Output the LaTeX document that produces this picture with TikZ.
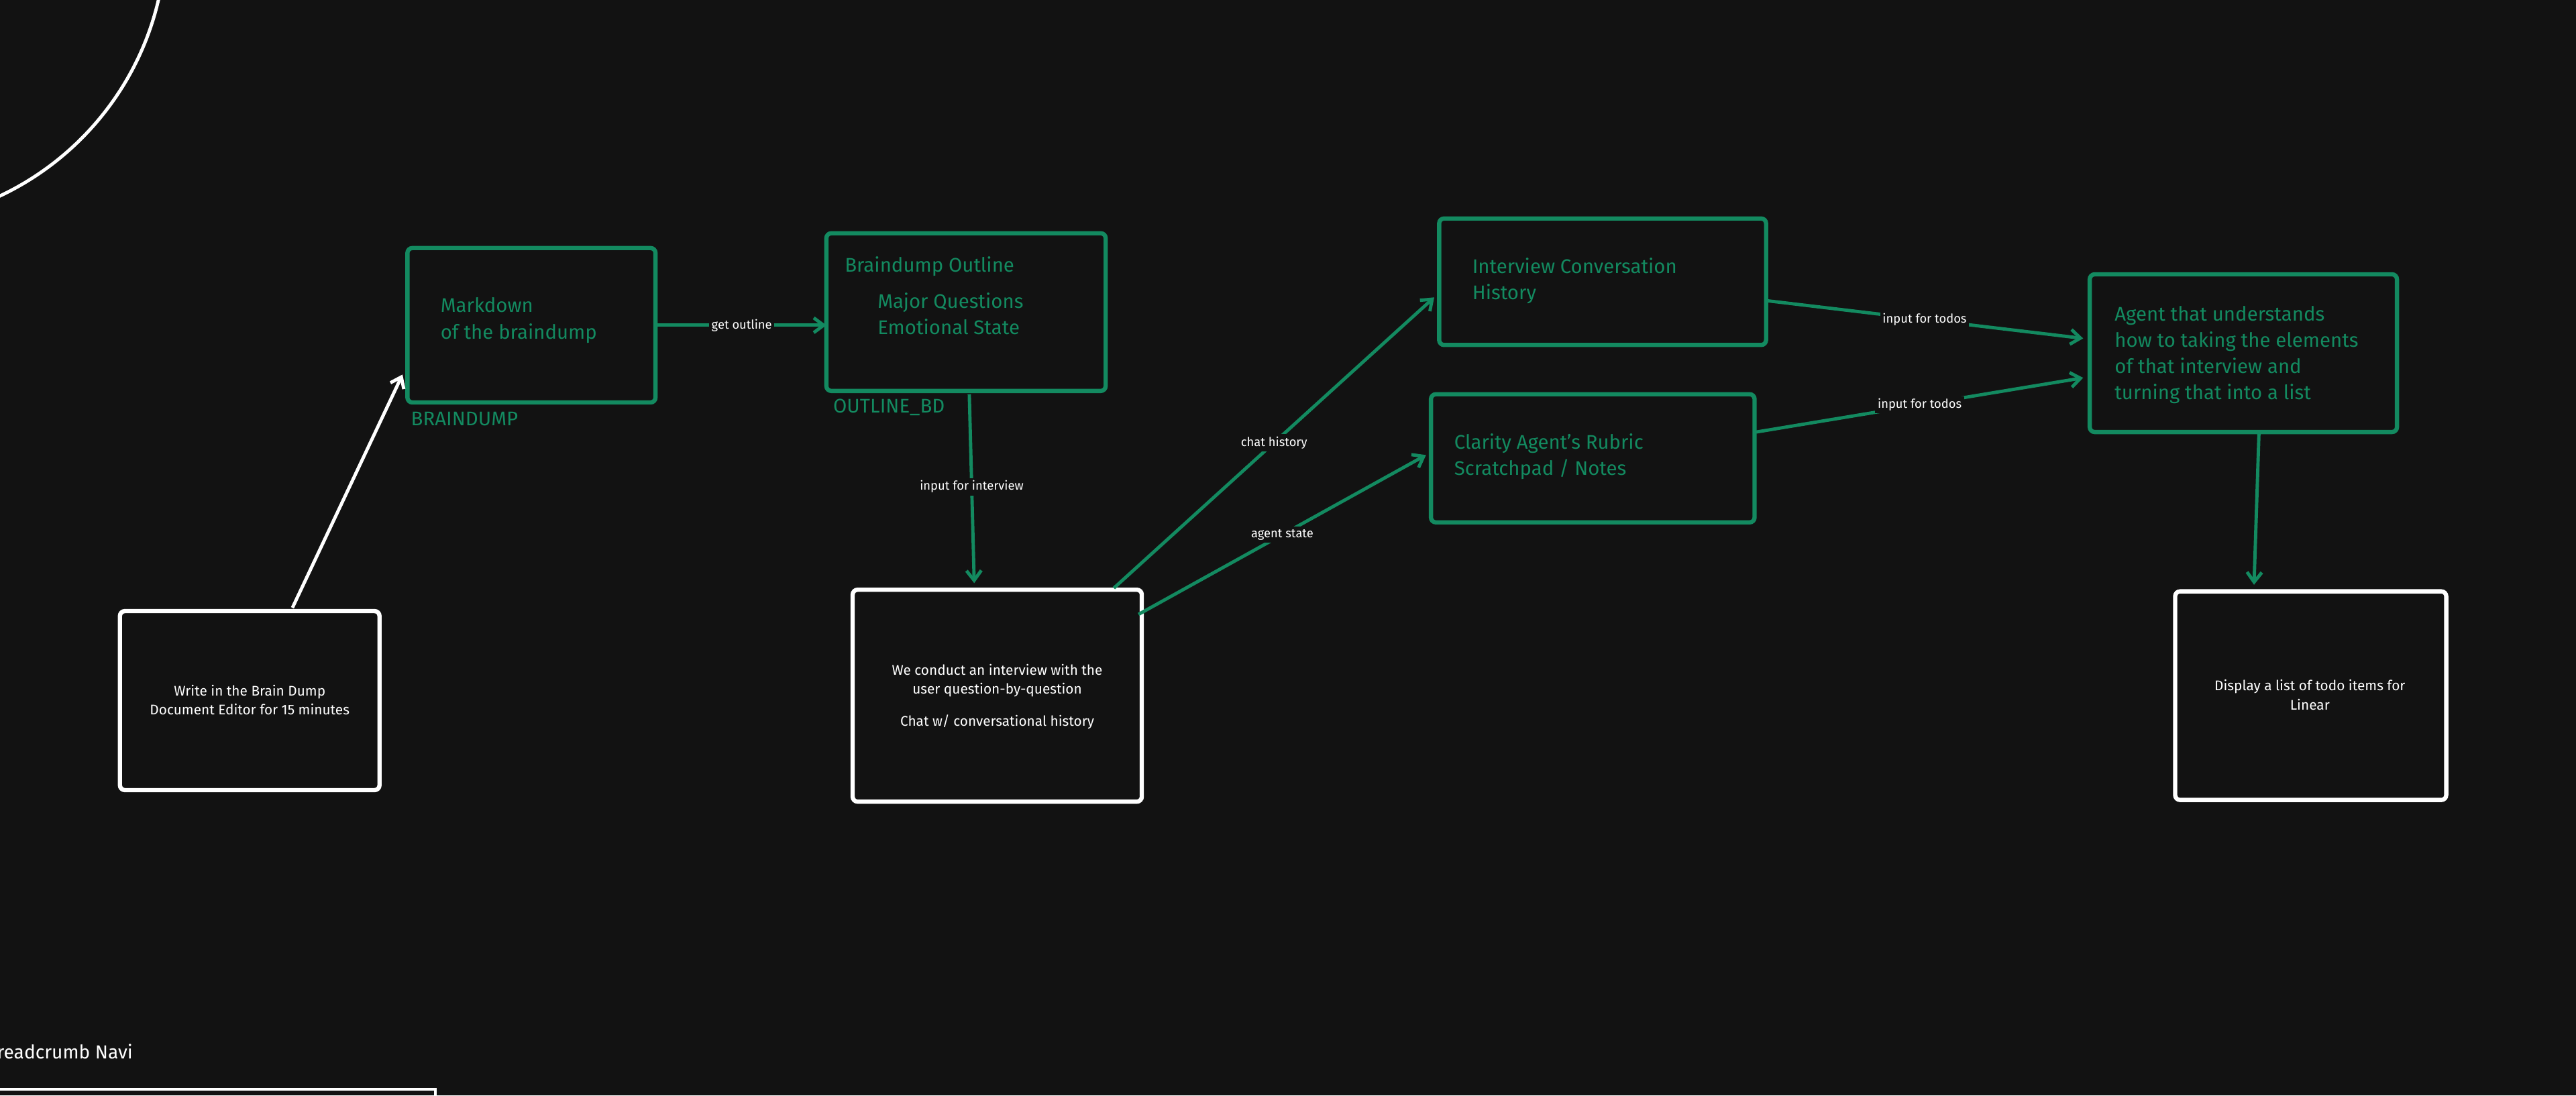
\documentclass[tikz,border=0pt]{standalone}
\usepackage{fontspec}
\setmainfont{Fira Sans}
\usetikzlibrary{arrows.meta}
\definecolor{bg}{HTML}{121212}
\definecolor{gr}{HTML}{138A60}
\begin{document}
\begin{tikzpicture}[x=1pt,y=-1pt,
  gbox/.style={draw=gr,line width=2.6pt,rounded corners=3pt},
  wbox/.style={draw=white,line width=2.6pt,rounded corners=3pt},
  gtxt/.style={text=gr,font=\fontsize{12}{16}\selectfont,anchor=west,align=left,inner sep=0},
  wtxt/.style={text=white,font=\fontsize{8.5}{11.5}\selectfont,align=center},
  garr/.style={draw=gr,line width=2pt,-{Straight Barb[length=6pt,width=9pt]}},
  warr/.style={draw=white,line width=2pt,-{Straight Barb[length=6pt,width=9pt]}},
  lab/.style={fill=bg,text=white,font=\fontsize{7.5}{8}\selectfont,inner sep=1.5pt}]
\fill[bg] (0,0) rectangle (1568,667);
\useasboundingbox (0,0) rectangle (1568,667);
\begin{scope}
\clip (0,0) rectangle (1568,667);
\draw[white,line width=2pt] (-75,-40) circle (176);
\draw[white,line width=1.5pt] (-10,663) rectangle (265,700);
\node[text=white,font=\fontsize{11.5}{13}\selectfont,anchor=west,inner sep=0] (bc) at (-2,640) {readcrumb Navi};
\end{scope}
% boxes
\draw[wbox] (73,372) rectangle (231,481);
\node[wtxt] (write) at (152,426) {Write in the Brain Dump\\Document Editor for 15 minutes};
\draw[gbox] (248,151) rectangle (399,245);
\node[gtxt] (md) at (268,195) {Markdown\\of the braindump};
\node[gtxt] (bdl) at (250,255) {BRAINDUMP};
\draw[gbox] (503,142) rectangle (673,238);
\node[gtxt] (bo) at (514,162) {Braindump Outline};
\node[gtxt] (mq) at (534,191) {Major Questions\\Emotional State};
\node[gtxt] (obd) at (507,248) {OUTLINE\_BD};
\draw[wbox] (519,359) rectangle (695,488);
\node[wtxt] (iv) at (607,424) {We conduct an interview with the\\user question-by-question\\[8pt]Chat w/ conversational history};
\draw[gbox] (876,133) rectangle (1075,210);
\node[gtxt] (ich) at (896,171) {Interview Conversation\\History};
\draw[gbox] (871,240) rectangle (1068,318);
\node[gtxt] (cl) at (885,278) {Clarity Agent's Rubric\\Scratchpad / Notes};
\draw[gbox] (1272,167) rectangle (1459,263);
\node[gtxt] (ag) at (1287,216) {Agent that understands\\how to taking the elements\\of that interview and\\turning that into a list};
\draw[wbox] (1324,360) rectangle (1489,487);
\node[wtxt] (disp) at (1406,423) {Display a list of todo items for\\Linear};
% coordinates for connector ends
\coordinate (a1) at (178,370); \coordinate (a2) at (245,228);
\coordinate (b1) at (400,198); \coordinate (b2) at (503,198);
\coordinate (c1) at (590,240); \coordinate (c2) at (593,355);
\coordinate (d1) at (678,358); \coordinate (d2) at (873,181);
\coordinate (e1) at (693,374); \coordinate (e2) at (868,277);
\coordinate (f1) at (1075,183); \coordinate (f2) at (1268,206);
\coordinate (g1) at (1069,263); \coordinate (g2) at (1268,230);
\coordinate (h1) at (1375,264); \coordinate (h2) at (1372,356);
\draw[warr] (a1) -- (a2);
\draw[garr] (b1) -- node[lab]{get outline} (b2);
\draw[garr] (c1) -- node[lab,pos=0.49]{input for interview} (c2);
\draw[garr] (d1) -- node[lab,pos=0.5]{chat history} (d2);
\draw[garr] (e1) -- node[lab,pos=0.5]{agent state} (e2);
\draw[garr] (f1) -- node[lab,pos=0.5]{input for todos} (f2);
\draw[garr] (g1) -- node[lab,pos=0.5]{input for todos} (g2);
\draw[garr] (h1) -- (h2);
\end{tikzpicture}
\end{document}
